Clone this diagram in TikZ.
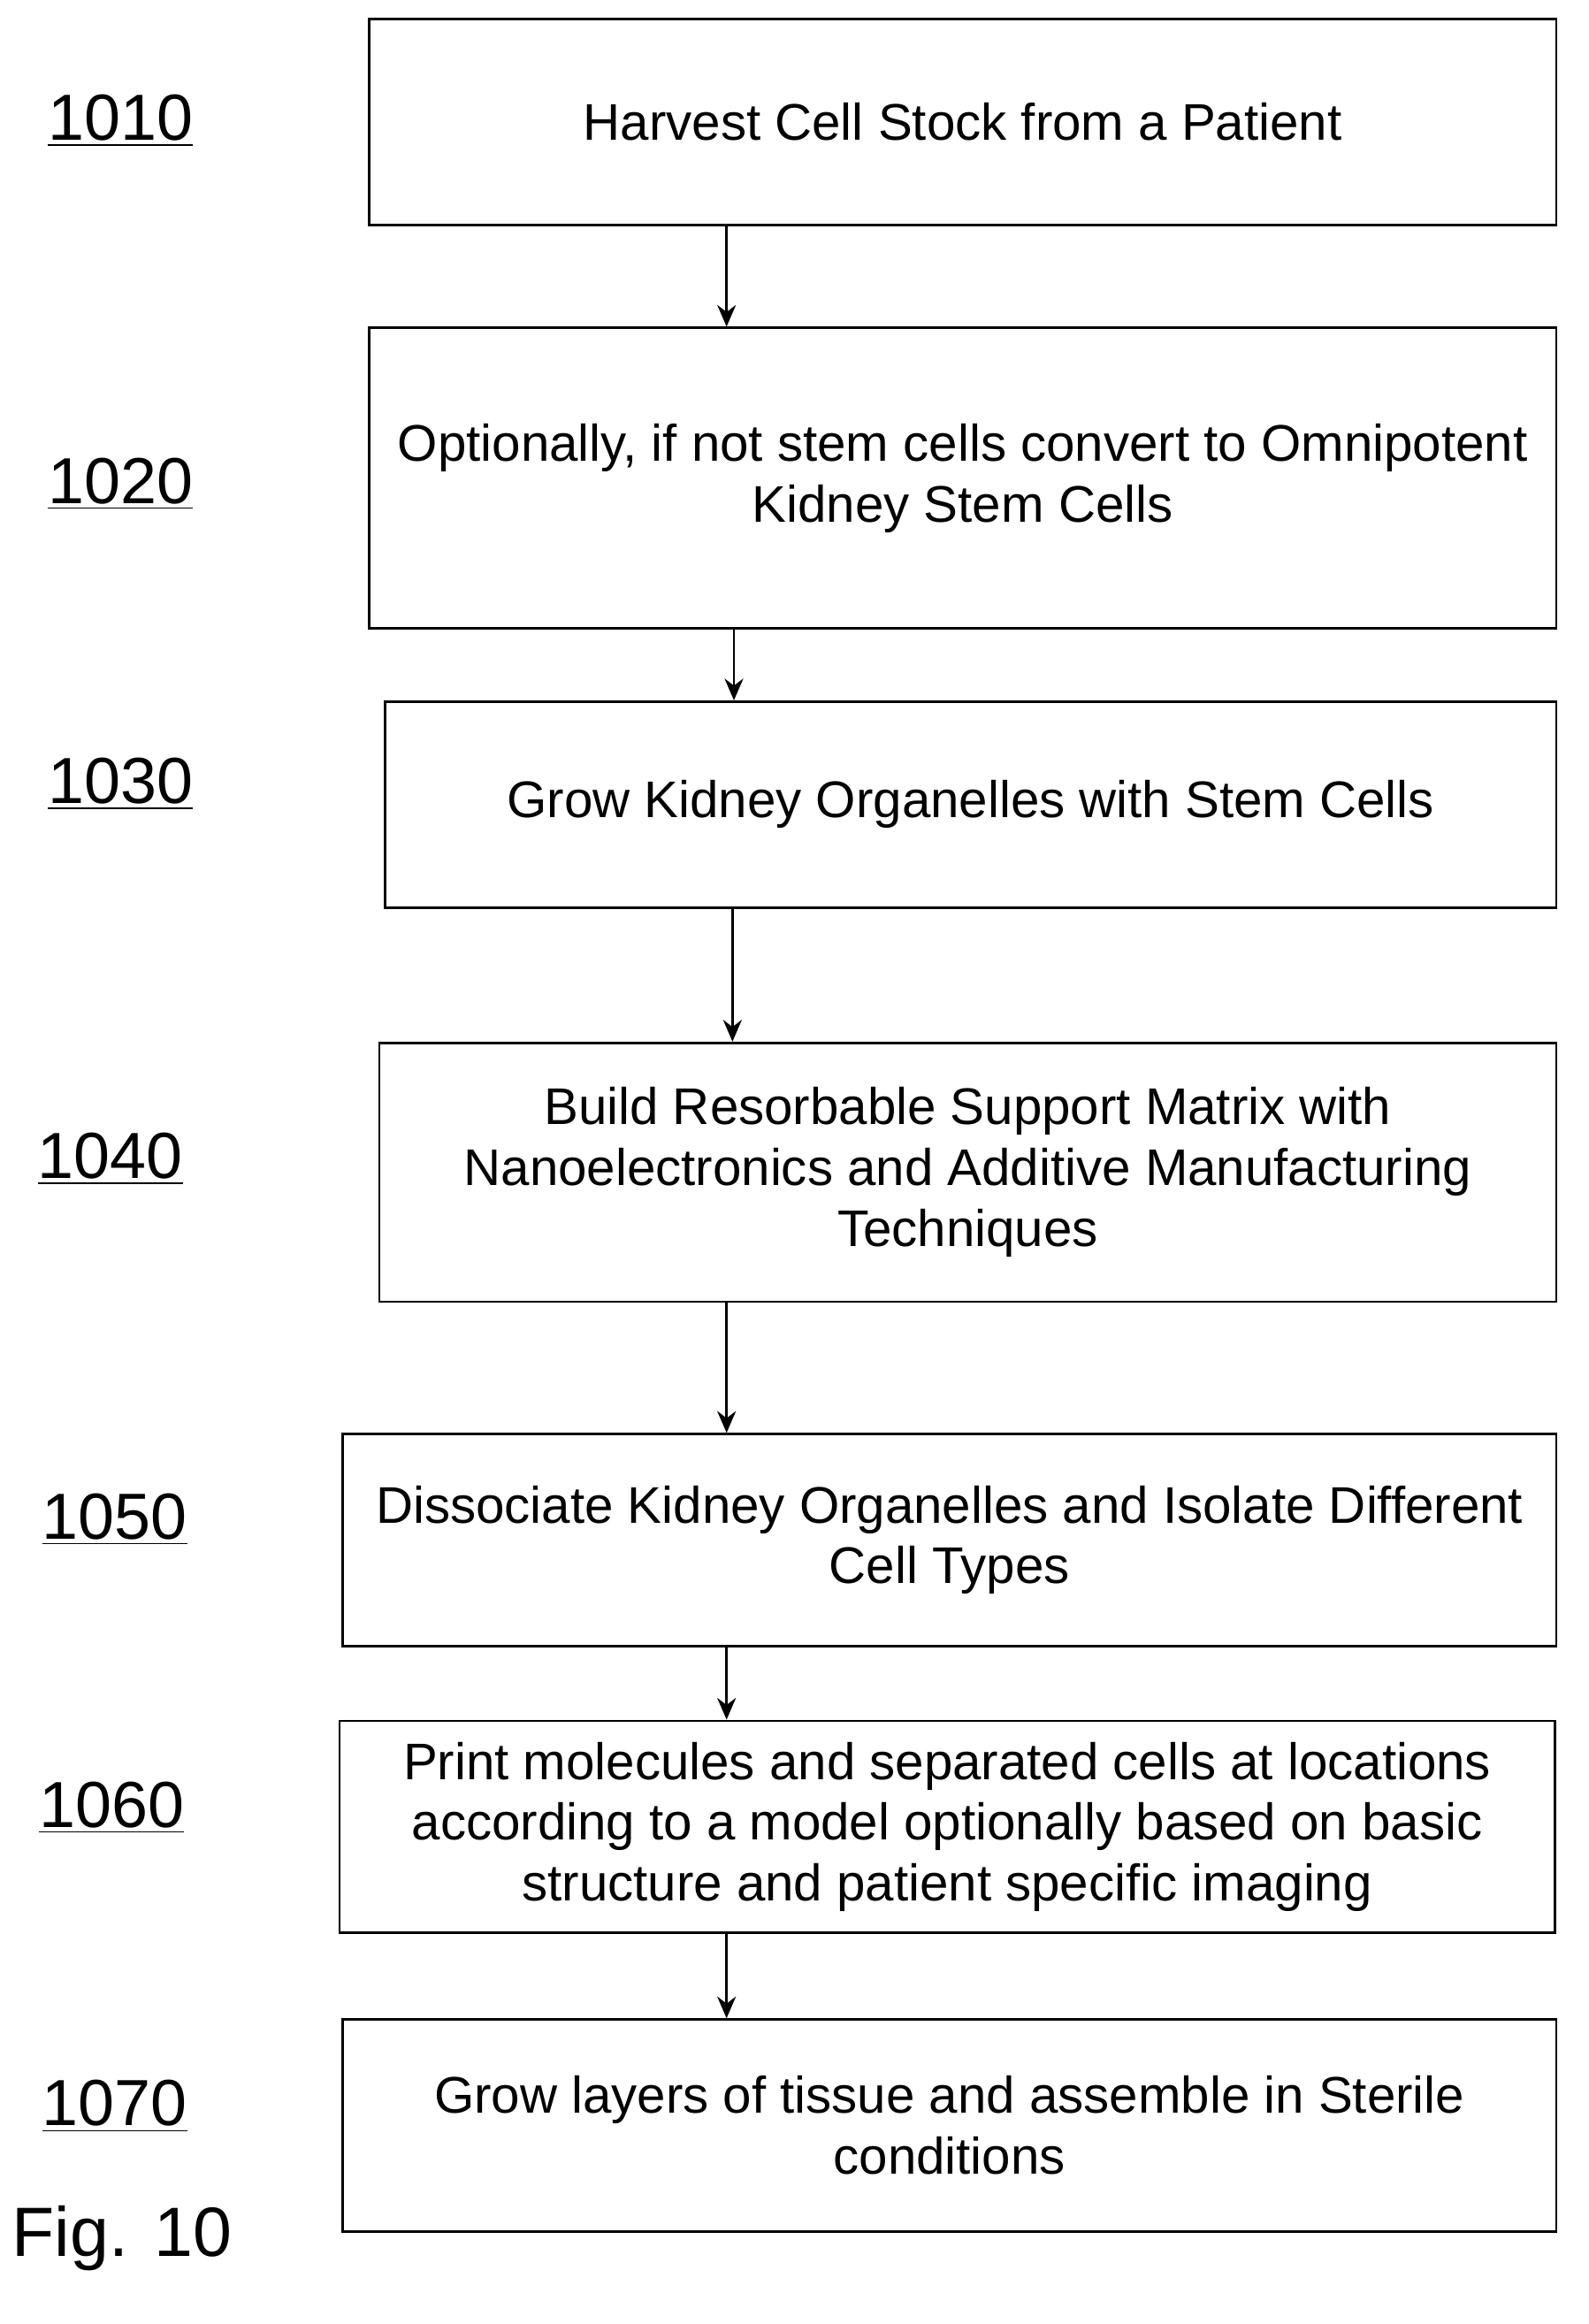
\documentclass[tikz,border=0pt]{standalone}
\usepackage{fontspec}
\setmainfont{Liberation Sans}
\usetikzlibrary{arrows.meta}

\tikzset{
  procbox/.style={draw, thick, rectangle, align=center, font=\fontsize{16.6}{19.6}\selectfont, inner sep=0pt},
  ref/.style={font=\fontsize{21}{24}\selectfont},
  flow/.style={thick, -{Stealth[length=7pt,width=6pt]}}
}

\begin{document}
\begin{tikzpicture}[x=0.016667cm, y=-0.016667cm]
    % Rahmen
    \useasboundingbox (0,0) rectangle (1080,1580);

    % Schritte
    \node[procbox, minimum width=13.45cm, minimum height=2.333cm] (b1) at (654.5,83) {Harvest Cell Stock from a Patient};
    \node[procbox, minimum width=13.45cm, minimum height=3.4cm] (b2) at (654.5,325) {Optionally, if not stem cells convert to Omnipotent\\Kidney Stem Cells};
    \node[procbox, minimum width=13.267cm, minimum height=2.333cm] (b3) at (660,547) {Grow Kidney Organelles with Stem Cells};
    \node[procbox, minimum width=13.333cm, minimum height=2.933cm] (b4) at (658,797) {Build Resorbable Support Matrix with\\Nanoelectronics and Additive Manufacturing\\Techniques};
    \node[procbox, minimum width=13.75cm, minimum height=2.4cm] (b5) at (645.5,1047) {Dissociate Kidney Organelles and Isolate Different\\Cell Types};
    \node[procbox, minimum width=13.767cm, minimum height=2.4cm] (b6) at (644,1242) {Print molecules and separated cells at locations\\according to a model optionally based on basic\\structure and patient specific imaging};
    \node[procbox, minimum width=13.75cm, minimum height=2.4cm] (b7) at (645.5,1445) {Grow layers of tissue and assemble in Sterile\\conditions};

    % Nummern
    \node[ref] (l1) at (82,82) {\underline{1010}};
    \node[ref] (l2) at (82,329) {\underline{1020}};
    \node[ref] (l3) at (82,533) {\underline{1030}};
    \node[ref] (l4) at (75,788) {\underline{1040}};
    \node[ref] (l5) at (78,1033) {\underline{1050}};
    \node[ref] (l6) at (76,1229) {\underline{1060}};
    \node[ref] (l7) at (78,1432) {\underline{1070}};
    \node[font=\fontsize{22.5}{26}\selectfont] (fig) at (83,1522) {Fig. 10};

    % Pfeile
    \draw[flow] (b1.south -| 494,0) -- (b2.north -| 494,0);
    \draw[flow] (b2.south -| 499,0) -- (b3.north -| 499,0);
    \draw[flow] (b3.south -| 498,0) -- (b4.north -| 498,0);
    \draw[flow] (b4.south -| 494,0) -- (b5.north -| 494,0);
    \draw[flow] (b5.south -| 494,0) -- (b6.north -| 494,0);
    \draw[flow] (b6.south -| 494,0) -- (b7.north -| 494,0);
\end{tikzpicture}
\end{document}
